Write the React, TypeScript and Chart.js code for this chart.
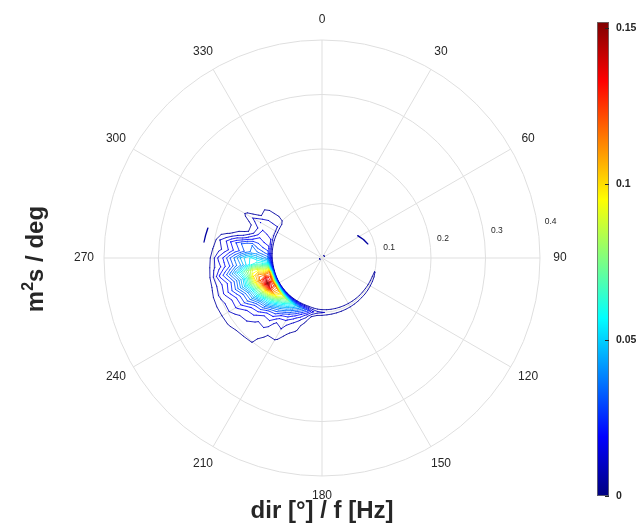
import React, { useEffect, useRef } from 'react';
import { Chart, registerables } from 'chart.js';

Chart.register(...registerables);

// ---------- data ----------
const thetaLabels = ['0', '30', '60', '90', '120', '150', '180', '210', '240', '270', '300', '330'];
const sectorValues = [0, 0, 0, 0, 0, 0, 0, 0, 0, 0, 0, 0];
const radialTicks = [0.1, 0.2, 0.3, 0.4];
const radialMax = 0.4;
const colorbarTicks = [0, 0.05, 0.1, 0.15];
const colorbarMax = 0.152;
const xTitle = 'dir [°] / f [Hz]';
const yTitleParts = ['m', '2', 's / deg'];

// frequency rows [Hz]
const freqs = [0.09, 0.10, 0.11, 0.12, 0.13, 0.14, 0.15, 0.16, 0.17, 0.18, 0.19, 0.20, 0.21, 0.22, 0.23];
// direction columns [deg]
const dirs = [
  100, 105, 110, 115, 120, 125, 130, 135, 140, 145, 150, 155, 160, 165, 170,
  175, 180, 185, 190, 195, 200, 205, 210, 215, 220, 225, 230, 235, 240, 245,
  250, 255, 260, 265, 270, 275, 280, 285, 290, 295, 300, 305, 310, 315, 320,
];
// contour levels [m²s/deg]
const levels = [
  0.005, 0.01, 0.015, 0.02, 0.025, 0.03, 0.035, 0.04, 0.045, 0.05,
  0.055, 0.06, 0.065, 0.07, 0.075, 0.08, 0.085, 0.09, 0.095, 0.1,
  0.105, 0.11, 0.115, 0.12, 0.125, 0.13, 0.135, 0.14, 0.145, 0.15,
];
const specUnit = 0.001; // spectrum values below are in 1e-3 m²s/deg
// spectral density, one row per frequency, one column per direction
const spectrum = [
  // f = 0.09
  [0, 0, 0, 0, 0, 0, 0, 0, 0, 0, 0, 0, 0, 0, 0, 0, 0, 0, 0, 0, 0, 0, 0, 0, 0, 0, 0, 0, 0, 0, 0, 0, 0, 0, 0, 0, 0, 0, 0, 0, 0, 0, 0, 0, 0],
  // f = 0.10
  [0, 5.3, 6, 6.3, 6.5, 6.8, 7, 7, 7.3, 7.5, 7.8, 8, 8.3, 8.6, 9, 9.5, 10.5, 12, 16, 26, 34, 43, 53, 64, 76, 88, 100, 112, 122, 116, 124, 114, 80, 56, 38, 28, 22, 18, 15, 13, 12, 10, 8, 3, 0],
  // f = 0.11
  [0, 0, 0, 0, 0, 0, 0, 0, 0, 0, 0, 0, 0, 0, 0, 0, 0, 0, 4, 12, 20, 28, 37, 47, 58, 72, 90, 110, 134, 153, 138, 106, 82, 60, 44, 32, 25, 20, 17, 14, 12, 10, 9, 4, 0],
  // f = 0.12
  [0, 0, 0, 0, 0, 0, 0, 0, 0, 0, 0, 0, 0, 0, 0, 0, 0, 0, 0, 6, 11, 17, 24, 32, 41, 52, 66, 82, 98, 112, 120, 112, 90, 64, 50, 36, 28, 23, 18, 15, 13, 10, 8, 3, 0],
  // f = 0.13
  [0, 0, 0, 0, 0, 0, 0, 0, 0, 0, 0, 0, 0, 0, 0, 0, 0, 0, 0, 3, 7, 11, 16, 19, 28, 35, 48, 56, 72, 80, 96, 100, 90, 58, 56, 36, 35, 21, 12, 10, 15, 7, 8, 1, 0],
  // f = 0.14
  [0, 0, 0, 0, 0, 0, 0, 0, 0, 0, 0, 0, 0, 0, 0, 0, 0, 0, 0, 1, 6, 7, 12, 12, 20, 22, 32, 38, 52, 56, 72, 70, 76, 50, 52, 32, 34, 17, 6, 6, 12, 3.5, 4, 0, 0],
  // f = 0.15
  [0, 0, 0, 0, 0, 0, 0, 0, 0, 0, 0, 0, 0, 0, 0, 0, 0, 0, 0, 0, 3, 6, 10, 8, 15, 15, 22, 26, 37, 40, 52, 50, 62, 40, 45, 26, 30, 12, 3, 3, 9, 1, 0, 0, 0],
  // f = 0.16
  [0, 0, 0, 0, 0, 0, 0, 0, 0, 0, 0, 0, 0, 0, 0, 0, 0, 0, 0, 0, 0, 4, 8, 7, 12, 11, 16, 19, 28, 29, 39, 37, 48, 33, 36, 22, 25, 10, 1, 1, 6.5, 0, 0, 0, 0],
  // f = 0.17
  [0, 0, 0, 0, 0, 0, 0, 0, 0, 0, 0, 0, 0, 0, 0, 0, 0, 0, 0, 0, 0, 1, 6.5, 5.5, 9, 9, 13, 14, 21, 22, 29, 27, 37, 25, 29, 16, 20, 6, 0, 0, 2, 0, 0, 0, 0],
  // f = 0.18
  [0, 0, 0, 0, 0, 0, 0, 0, 0, 0, 0, 0, 0, 0, 0, 0, 0, 0, 0, 0, 0, 0, 2, 4, 8, 7, 10, 11, 16, 16, 22, 20, 28, 19, 21, 12, 14, 4, 0, 0, 0, 0, 0, 0, 0],
  // f = 0.19
  [0, 0, 0, 0, 0, 0, 0, 0, 0, 0, 0, 0, 0, 0, 0, 0, 0, 0, 0, 0, 0, 0, 0, 1, 6.5, 7, 8, 8.5, 12, 12, 16, 15, 21, 13, 16, 8, 10, 2, 0, 0, 0, 0, 0, 0, 0],
  // f = 0.20
  [0, 0, 0, 0, 0, 0, 0, 0, 0, 0, 0, 0, 0, 0, 0, 0, 0, 0, 0, 0, 0, 0, 0, 0, 5.5, 6, 6.5, 7, 9, 9, 11, 10, 12, 9, 8, 5.5, 3, 0, 0, 0, 0, 0, 0, 0, 0],
  // f = 0.21
  [0, 0, 0, 0, 0, 0, 0, 0, 0, 0, 0, 0, 0, 0, 0, 0, 0, 0, 0, 0, 0, 0, 0, 0, 2, 3, 4, 5.5, 6, 6.5, 6, 4.5, 4, 3, 2, 1, 0, 0, 0, 0, 0, 0, 0, 0, 0],
  // f = 0.22
  [0, 0, 0, 0, 0, 0, 0, 0, 0, 0, 0, 0, 0, 0, 0, 0, 0, 0, 0, 0, 0, 0, 0, 0, 0, 0, 1, 2, 1, 1, 1, 0, 0, 0, 0, 0, 0, 0, 0, 0, 0, 0, 0, 0, 0],
  // f = 0.23
  [0, 0, 0, 0, 0, 0, 0, 0, 0, 0, 0, 0, 0, 0, 0, 0, 0, 0, 0, 0, 0, 0, 0, 0, 0, 0, 0, 0, 0, 0, 0, 0, 0, 0, 0, 0, 0, 0, 0, 0, 0, 0, 0, 0, 0],
];
// small isolated contours: [direction deg, frequency Hz]
const strayContours = [
  { level: 0.005, points: [[284.7, 0.2163], [281, 0.2175], [277.7, 0.2185], [281, 0.2178], [284.7, 0.2166]] },
  { level: 0.005, points: [[58, 0.077], [66, 0.083], [73, 0.088], [66, 0.0835], [58, 0.0775]] },
  { level: 0.005, points: [[232, 0.0045], [255, 0.0045]] },
  { level: 0.005, points: [[35, 0.0055], [55, 0.0055]] },
];

// ---------- helpers ----------
const FONT = '"Liberation Sans", Arial, Helvetica, sans-serif';
const TEXT = 'rgb(38,38,38)';
const GRID = 'rgb(223,223,223)';

function jet(t: number): string {
  const x = Math.min(1, Math.max(0, t));
  const c = (v: number) => Math.round(255 * Math.min(1, Math.max(0, v)));
  return `rgb(${c(1.5 - Math.abs(4 * x - 3))},${c(1.5 - Math.abs(4 * x - 2))},${c(1.5 - Math.abs(4 * x - 1))})`;
}

function fmt(v: number): string {
  return String(Math.round(v * 1000) / 1000);
}

const polarContourPlugin = {
  id: 'polarContour',
  afterDatasetsDraw(chart: any) {
    const s = chart.scales.r;
    const ctx: CanvasRenderingContext2D = chart.ctx;
    const start = s.options.startAngle || 0;
    const toXY = (dir: number, f: number) => {
      const a = ((dir + start) * Math.PI) / 180 - Math.PI / 2;
      const d = s.getDistanceFromCenterForValue(f);
      return [s.xCenter + Math.cos(a) * d, s.yCenter + Math.sin(a) * d];
    };

    ctx.save();
    ctx.lineWidth = 0.85;
    ctx.lineJoin = 'round';
    ctx.lineCap = 'round';
    for (const L of levels) {
      const lv = L / specUnit;
      ctx.strokeStyle = jet(L / colorbarMax);
      ctx.beginPath();
      const seg = (p: number[], q: number[]) => {
        const a = toXY(p[0], p[1]);
        const b = toXY(q[0], q[1]);
        ctx.moveTo(a[0], a[1]);
        ctx.lineTo(b[0], b[1]);
      };
      for (let i = 0; i < freqs.length - 1; i++) {
        for (let j = 0; j < dirs.length - 1; j++) {
          const v00 = spectrum[i][j];
          const v01 = spectrum[i][j + 1];
          const v10 = spectrum[i + 1][j];
          const v11 = spectrum[i + 1][j + 1];
          const pts: number[][] = [];
          if ((v00 >= lv) !== (v01 >= lv)) {
            const t = (lv - v00) / (v01 - v00);
            pts.push([dirs[j] + t * (dirs[j + 1] - dirs[j]), freqs[i]]);
          }
          if ((v01 >= lv) !== (v11 >= lv)) {
            const t = (lv - v01) / (v11 - v01);
            pts.push([dirs[j + 1], freqs[i] + t * (freqs[i + 1] - freqs[i])]);
          }
          if ((v11 >= lv) !== (v10 >= lv)) {
            const t = (lv - v11) / (v10 - v11);
            pts.push([dirs[j + 1] + t * (dirs[j] - dirs[j + 1]), freqs[i + 1]]);
          }
          if ((v10 >= lv) !== (v00 >= lv)) {
            const t = (lv - v10) / (v00 - v10);
            pts.push([dirs[j], freqs[i + 1] + t * (freqs[i] - freqs[i + 1])]);
          }
          if (pts.length === 2) seg(pts[0], pts[1]);
          else if (pts.length === 4) {
            if (v00 >= lv) { seg(pts[0], pts[3]); seg(pts[1], pts[2]); }
            else { seg(pts[0], pts[1]); seg(pts[2], pts[3]); }
          }
        }
      }
      ctx.stroke();
    }
    // stray small contours
    ctx.lineWidth = 1.2;
    for (const sc of strayContours) {
      ctx.strokeStyle = jet(sc.level / colorbarMax);
      ctx.beginPath();
      sc.points.forEach((p, k) => {
        const [x, y] = toXY(p[0], p[1]);
        if (k === 0) ctx.moveTo(x, y); else ctx.lineTo(x, y);
      });
      ctx.stroke();
    }
    ctx.restore();
  },
  afterDraw(chart: any) {
    const s = chart.scales.r;
    const ctx: CanvasRenderingContext2D = chart.ctx;
    ctx.save();
    // angular labels
    ctx.fillStyle = TEXT;
    ctx.font = `12px ${FONT}`;
    ctx.textAlign = 'center';
    ctx.textBaseline = 'middle';
    thetaLabels.forEach((lab, i) => {
      const p = s.getPointPosition(i, s.drawingArea + 20);
      ctx.fillText(lab, p.x, p.y);
    });
    // radial tick labels along ~81 deg
    ctx.font = `8.5px ${FONT}`;
    const la = ((81 + (s.options.startAngle || 0)) * Math.PI) / 180 - Math.PI / 2;
    radialTicks.forEach((v) => {
      const d = s.getDistanceFromCenterForValue(v) + 13.5;
      ctx.fillText(fmt(v), s.xCenter + Math.cos(la) * d, s.yCenter + Math.sin(la) * d);
    });

    // colorbar
    const cbL = 597, cbT = 22, cbW = 12, cbH = 474;
    const grad = ctx.createLinearGradient(0, cbT + cbH, 0, cbT);
    for (let k = 0; k <= 64; k++) grad.addColorStop(k / 64, jet(k / 64));
    ctx.fillStyle = grad;
    ctx.fillRect(cbL, cbT, cbW, cbH);
    ctx.strokeStyle = 'rgb(110,110,110)';
    ctx.lineWidth = 0.8;
    ctx.strokeRect(cbL + 0.5, cbT + 0.5, cbW - 1, cbH - 1);
    ctx.fillStyle = TEXT;
    ctx.strokeStyle = TEXT;
    ctx.lineWidth = 1;
    ctx.font = `bold 10.5px ${FONT}`;
    ctx.textAlign = 'left';
    ctx.textBaseline = 'middle';
    colorbarTicks.forEach((v) => {
      const y = cbT + cbH - (v / colorbarMax) * cbH;
      ctx.beginPath();
      ctx.moveTo(cbL + cbW - 4, Math.round(y) + 0.5);
      ctx.lineTo(cbL + cbW, Math.round(y) + 0.5);
      ctx.stroke();
      ctx.fillText(fmt(v), cbL + cbW + 7, y);
    });

    // x title
    ctx.font = `bold 24px ${FONT}`;
    ctx.textAlign = 'center';
    ctx.textBaseline = 'alphabetic';
    ctx.fillText(xTitle, s.xCenter, 518);

    // y title (rotated, with superscript)
    ctx.translate(43, 259);
    ctx.rotate(-Math.PI / 2);
    ctx.textAlign = 'left';
    const big = `bold 24px ${FONT}`;
    const small = `bold 16px ${FONT}`;
    ctx.font = big; const w0 = ctx.measureText(yTitleParts[0]).width;
    ctx.font = small; const w1 = ctx.measureText(yTitleParts[1]).width;
    ctx.font = big; const w2 = ctx.measureText(yTitleParts[2]).width;
    let x = -(w0 + w1 + w2) / 2;
    ctx.font = big; ctx.fillText(yTitleParts[0], x, 0); x += w0;
    ctx.font = small; ctx.fillText(yTitleParts[1], x, -10); x += w1;
    ctx.font = big; ctx.fillText(yTitleParts[2], x, 0);
    ctx.restore();
  },
};

export default function App() {
  const ref = useRef<HTMLCanvasElement | null>(null);
  useEffect(() => {
    if (!ref.current) return;
    const chart = new Chart(ref.current, {
      type: 'polarArea',
      data: {
        labels: thetaLabels,
        datasets: [{ data: sectorValues, backgroundColor: 'rgba(0,0,0,0)', borderWidth: 0 }],
      },
      options: {
        responsive: false,
        animation: false,
        devicePixelRatio: 1,
        layout: { padding: { left: 104, right: 96, top: 40, bottom: 50 } },
        plugins: { legend: { display: false }, tooltip: { enabled: false } },
        scales: {
          r: {
            min: 0,
            max: radialMax,
            startAngle: 0,
            ticks: { display: false, stepSize: 0.1 },
            grid: { circular: true, color: GRID, lineWidth: 1 },
            angleLines: { display: true, color: GRID, lineWidth: 1 },
            pointLabels: { display: false },
          },
        },
      } as any,
      plugins: [polarContourPlugin],
    });
    return () => chart.destroy();
  }, []);
  return (
    <div style={{ position: 'absolute', left: 0, top: 0, width: 636, height: 526, background: '#fff' }}>
      <canvas ref={ref} width={636} height={526} style={{ display: 'block' }} />
    </div>
  );
}
